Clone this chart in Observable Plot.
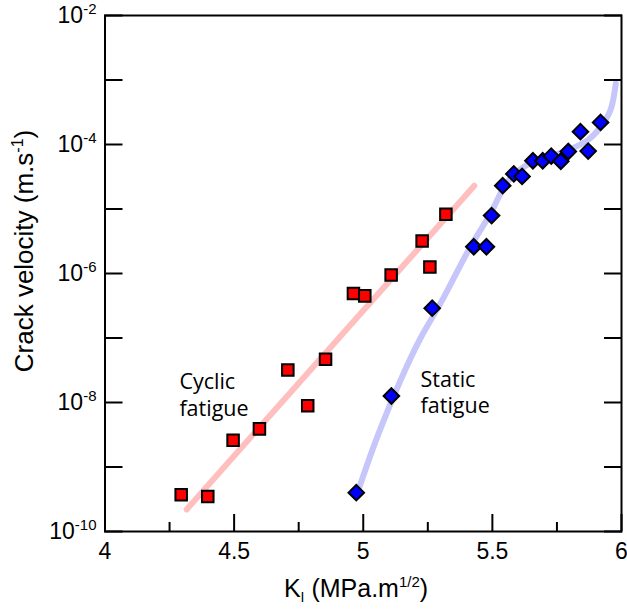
<!DOCTYPE html>
<html><head><meta charset="utf-8">
<script src="https://cdn.jsdelivr.net/npm/d3@7"></script>
<script src="https://cdn.jsdelivr.net/npm/@observablehq/plot@0.6"></script>
<style>body{margin:0;background:#fff} svg{display:block}</style>
</head><body><div id="chart"></div>
<script>
// Cyclic fatigue (red squares)
const cyclicK = [4.295, 4.398, 4.496, 4.598, 4.708, 4.785, 4.854, 4.962, 5.006, 5.108, 5.228, 5.258, 5.320];
const cyclicV = [3.7e-10, 3.5e-10, 2.6e-9, 3.9e-9, 3.2e-8, 8.9e-9, 4.7e-8, 4.9e-7, 4.5e-7, 9.5e-7, 3.2e-6, 1.26e-6, 8.3e-6];
// Static fatigue (blue diamonds)
const staticK = [4.973, 5.109, 5.267, 5.428, 5.477, 5.497, 5.540, 5.583, 5.615, 5.657, 5.695, 5.728, 5.765, 5.794, 5.841, 5.871, 5.919];
const staticV = [4.0e-10, 1.26e-8, 2.9e-7, 2.6e-6, 2.6e-6, 7.9e-6, 2.3e-5, 3.5e-5, 3.2e-5, 5.6e-5, 5.6e-5, 6.6e-5, 5.5e-5, 7.8e-5, 1.58e-4, 7.9e-5, 2.2e-4];
// Trend lines
const cyclicFitK = [4.316, 5.43];
const cyclicFitV = [2.2e-10, 2.3e-5];
const staticFitK = [4.983, 5.054, 5.144, 5.222, 5.300, 5.415, 5.493, 5.557, 5.622, 5.712, 5.790, 5.867, 5.919, 5.957, 5.978];
const staticFitV = [4.6e-10, 2.9e-9, 2.2e-8, 1.0e-7, 3.5e-7, 2.6e-6, 8.5e-6, 2.6e-5, 4.5e-5, 6.3e-5, 8.1e-5, 1.15e-4, 1.86e-4, 3.4e-4, 8.9e-4];
// Annotations
const labelText = ["Cyclic\nfatigue", "Static\nfatigue"];
const labelK = [4.288, 5.222];
const labelV = [1.35e-8, 1.47e-8];
// Ticks
const xMajor = [4, 4.5, 5, 5.5, 6];
const xMinor = [4.25, 4.75, 5.25, 5.75];
const yTicks = [1e-10, 1e-9, 1e-8, 1e-7, 1e-6, 1e-5, 1e-4, 1e-3, 1e-2];

const zip = (K, V) => K.map((k, i) => ({k, v: V[i]}));
const cyclic = zip(cyclicK, cyclicV);
const stat = zip(staticK, staticV);
const cyclicFit = zip(cyclicFitK, cyclicFitV);
const staticFit = zip(staticFitK, staticFitV);
const labels = labelText.map((t, i) => ({t, k: labelK[i], v: labelV[i]}));

const plot = Plot.plot({
  width: 627, height: 610,
  marginLeft: 104.5, marginRight: 6, marginTop: 15, marginBottom: 79,
  style: {fontFamily: "'Liberation Sans', Arial, sans-serif", fontSize: "23px", background: "white", color: "black"},
  x: {domain: [4, 6]},
  y: {type: "log", domain: [1e-10, 1e-2]},
  marks: [
    Plot.line(cyclicFit, {x: "k", y: "v", stroke: "#ffbfbf", strokeWidth: 6}),
    Plot.line(staticFit, {x: "k", y: "v", stroke: "#c6c6fa", strokeWidth: 6, curve: "catmull-rom"}),
    Plot.dot(cyclic, {x: "k", y: "v", symbol: "square", r: 6.5, fill: "#ff0000", stroke: "black", strokeWidth: 2}),
    Plot.dot(stat, {x: "k", y: "v", symbol: "diamond2", r: 7, fill: "#0000ff", stroke: "black", strokeWidth: 2}),
    Plot.text(labels, {x: "k", y: "v", text: "t", textAnchor: "start", lineAnchor: "middle", lineHeight: 1.23,
      fontFamily: "'Open Sans', sans-serif", fontSize: 21.5, fill: "black"}),
    Plot.frame({stroke: "black", strokeWidth: 2}),
    Plot.axisX({ticks: xMajor, tickSize: -17, tickPadding: 28, tickFormat: d => String(d), strokeWidth: 2, label: null}),
    Plot.axisX({ticks: xMinor, tickSize: -9, tickFormat: () => "", strokeWidth: 2, label: null}),
    Plot.axisY({ticks: yTicks, tickSize: -18, tickPadding: 26.5, strokeWidth: 2, label: null,
      tickFormat: d => { const e = Math.round(Math.log10(d)); return e % 2 === 0 ? "10^" + e : ""; }}),
    Plot.axisY({anchor: "right", ticks: yTicks, tickSize: -18, tickFormat: () => "", strokeWidth: 2, label: null})
  ]
});

const svg = d3.select(plot);
svg.selectAll('g[aria-label="y-axis tick label"] text').each(function() {
  const t = this.textContent;
  if (!t || t.indexOf("^") < 0) return;
  const [b, e] = t.split("^");
  const s = d3.select(this);
  s.text(null);
  s.append("tspan").text(b);
  s.append("tspan").attr("dy", "-9").attr("font-size", "15px").text(e);
});

// Axis titles
const font = "'Liberation Sans', Arial, sans-serif";
const yt = svg.append("text")
  .attr("transform", "translate(33,251) rotate(-90)")
  .attr("text-anchor", "middle").attr("font-family", font).attr("font-size", "26px").attr("fill", "black");
yt.append("tspan").text("Crack velocity (m.s");
yt.append("tspan").attr("dy", "-10").attr("font-size", "16px").text("-1");
yt.append("tspan").attr("dy", "10").text(")");

const xt = svg.append("text")
  .attr("x", 356).attr("y", 597)
  .attr("text-anchor", "middle").attr("font-family", font).attr("font-size", "25px").attr("fill", "black");
xt.append("tspan").text("K");
xt.append("tspan").attr("dy", "5").attr("font-size", "14px").text("I");
xt.append("tspan").attr("dy", "-5").text(" (MPa.m");
xt.append("tspan").attr("dy", "-10").attr("font-size", "15px").text("1/2");
xt.append("tspan").attr("dy", "10").text(")");

document.getElementById("chart").appendChild(plot);
</script>
</body></html>
